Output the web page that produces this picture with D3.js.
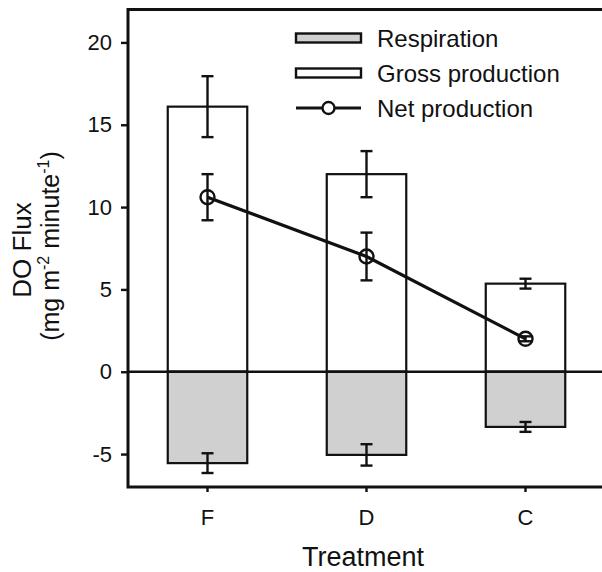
<!DOCTYPE html>
<html>
<head>
<meta charset="utf-8">
<script src="https://cdn.jsdelivr.net/npm/d3@7"></script>
<style>
  body { margin: 0; background: #fff; }
  text { font-family: "Liberation Sans", Arial, sans-serif; fill: #111; }
</style>
</head>
<body>
<div id="chart"></div>
<script>
// data
var treatments = ["F", "D", "C"];
var grossProd = [16.1, 12.0, 5.35];
var grossErr = [1.85, 1.4, 0.3];
var respiration = [-5.55, -5.05, -3.35];
var respErr = [0.6, 0.65, 0.3];
var netProd = [10.6, 7.0, 2.0];
var netErr = [1.4, 1.45, 0.15];
var yTicks = [-5, 0, 5, 10, 15, 20];

var width = 602, height = 572;
var margin = { top: 9.5, left: 128, bottom: 487 };
var ink = "#111";

var svg = d3.select("#chart").append("svg")
  .attr("width", width)
  .attr("height", height);

var x = d3.scaleBand()
  .domain(treatments)
  .range([margin.left, margin.left + 477])
  .paddingInner(0.5)
  .paddingOuter(0.25);

var y = d3.scaleLinear()
  .domain([-7, 22])
  .range([margin.bottom, margin.top]);

var data = treatments.map(function (t, i) {
  return { t: t, gross: grossProd[i], ge: grossErr[i], resp: respiration[i], re: respErr[i], net: netProd[i], ne: netErr[i] };
});

// bars - gross production (white) and respiration (grey)
svg.selectAll("rect.gross")
  .data(data).enter().append("rect")
  .attr("class", "gross")
  .attr("x", function (d) { return x(d.t); })
  .attr("width", x.bandwidth())
  .attr("y", function (d) { return y(d.gross); })
  .attr("height", function (d) { return y(0) - y(d.gross); })
  .attr("fill", "#fff").attr("stroke", ink).attr("stroke-width", 2.2);

svg.selectAll("rect.resp")
  .data(data).enter().append("rect")
  .attr("class", "resp")
  .attr("x", function (d) { return x(d.t); })
  .attr("width", x.bandwidth())
  .attr("y", y(0))
  .attr("height", function (d) { return y(d.resp) - y(0); })
  .attr("fill", "#d0d0d0").attr("stroke", ink).attr("stroke-width", 2.2);

// zero line
svg.append("line")
  .attr("x1", margin.left).attr("x2", width)
  .attr("y1", y(0)).attr("y2", y(0))
  .attr("stroke", ink).attr("stroke-width", 2.6);

// error bars
function errBars(cls, val, err) {
  var g = svg.selectAll("g." + cls).data(data).enter().append("g").attr("class", cls)
    .attr("stroke", ink).attr("stroke-width", 2.4);
  var cx = function (d) { return x(d.t) + x.bandwidth() / 2; };
  g.append("line")
    .attr("x1", cx).attr("x2", cx)
    .attr("y1", function (d) { return y(d[val] + d[err]); })
    .attr("y2", function (d) { return y(d[val] - d[err]); });
  [1, -1].forEach(function (s) {
    g.append("line")
      .attr("x1", function (d) { return cx(d) - 6; })
      .attr("x2", function (d) { return cx(d) + 6; })
      .attr("y1", function (d) { return y(d[val] + s * d[err]); })
      .attr("y2", function (d) { return y(d[val] + s * d[err]); });
  });
}
errBars("egross", "gross", "ge");
errBars("eresp", "resp", "re");
errBars("enet", "net", "ne");

// net production line
var line = d3.line()
  .x(function (d) { return x(d.t) + x.bandwidth() / 2; })
  .y(function (d) { return y(d.net); });

svg.append("path")
  .datum(data)
  .attr("d", line)
  .attr("fill", "none").attr("stroke", ink).attr("stroke-width", 3.2);

svg.selectAll("circle.net")
  .data(data).enter().append("circle")
  .attr("class", "net")
  .attr("cx", function (d) { return x(d.t) + x.bandwidth() / 2; })
  .attr("cy", function (d) { return y(d.net); })
  .attr("r", 7)
  .attr("fill", "none").attr("stroke", ink).attr("stroke-width", 2.4);

// axes
var yAxis = svg.append("g")
  .attr("transform", "translate(" + margin.left + ",0)")
  .call(d3.axisLeft(y).tickValues(yTicks).tickSize(7).tickPadding(9).tickFormat(d3.format("d")));
yAxis.select(".domain").remove();
yAxis.selectAll(".tick line").attr("stroke", ink).attr("stroke-width", 2.4);
yAxis.selectAll(".tick text").attr("font-size", 22).attr("font-family", "Liberation Sans, Arial, sans-serif").attr("fill", ink)
  .text(function (d) { return d < 0 ? "-" + Math.abs(d) : d; });

var xAxis = svg.append("g")
  .attr("transform", "translate(0," + margin.bottom + ")")
  .call(d3.axisBottom(x).tickSize(5).tickPadding(17));
xAxis.select(".domain").remove();
xAxis.selectAll(".tick line").attr("stroke", ink).attr("stroke-width", 2.4);
xAxis.selectAll(".tick text").attr("font-size", 22).attr("font-family", "Liberation Sans, Arial, sans-serif").attr("fill", ink);

// frame: left, top and bottom (right side runs off the picture)
svg.append("path")
  .attr("d", "M" + width + "," + margin.top + "H" + margin.left + "V" + margin.bottom + "H" + width)
  .attr("fill", "none").attr("stroke", ink).attr("stroke-width", 3);

// axis titles
svg.append("text")
  .attr("x", (margin.left + width) / 2 - 2).attr("y", 566)
  .attr("text-anchor", "middle").attr("font-size", 27)
  .text("Treatment");

var yt = svg.append("g").attr("transform", "translate(0,250) rotate(-90)");
yt.append("text").attr("x", 0).attr("y", 31).attr("text-anchor", "middle").attr("font-size", 26).text("DO Flux");
var t2 = yt.append("text").attr("x", 4).attr("y", 59).attr("text-anchor", "middle").attr("font-size", 25);
t2.append("tspan").text("(mg m");
t2.append("tspan").attr("font-size", 16).attr("dy", -10).text("-2");
t2.append("tspan").attr("dy", 10).text(" minute");
t2.append("tspan").attr("font-size", 16).attr("dy", -10).text("-1");
t2.append("tspan").attr("dy", 10).text(")");

// legend
var legendItems = ["Respiration", "Gross production", "Net production"];
var lg = svg.append("g").attr("transform", "translate(296,38)");
legendItems.forEach(function (name, i) {
  var row = lg.append("g").attr("transform", "translate(0," + i * 35 + ")");
  if (i < 2) {
    row.append("rect").attr("x", 0).attr("y", -4.5).attr("width", 65).attr("height", 9)
      .attr("fill", i === 0 ? "#d0d0d0" : "#fff").attr("stroke", ink).attr("stroke-width", 2.4);
  } else {
    row.append("line").attr("x1", 0).attr("x2", 65).attr("y1", 0).attr("y2", 0)
      .attr("stroke", ink).attr("stroke-width", 3.2);
    row.append("circle").attr("cx", 32.5).attr("cy", 0).attr("r", 6)
      .attr("fill", "#fff").attr("stroke", ink).attr("stroke-width", 2.4);
  }
  row.append("text").attr("x", 81).attr("y", 8.5).attr("font-size", 24).text(name);
});
</script>
</body>
</html>
